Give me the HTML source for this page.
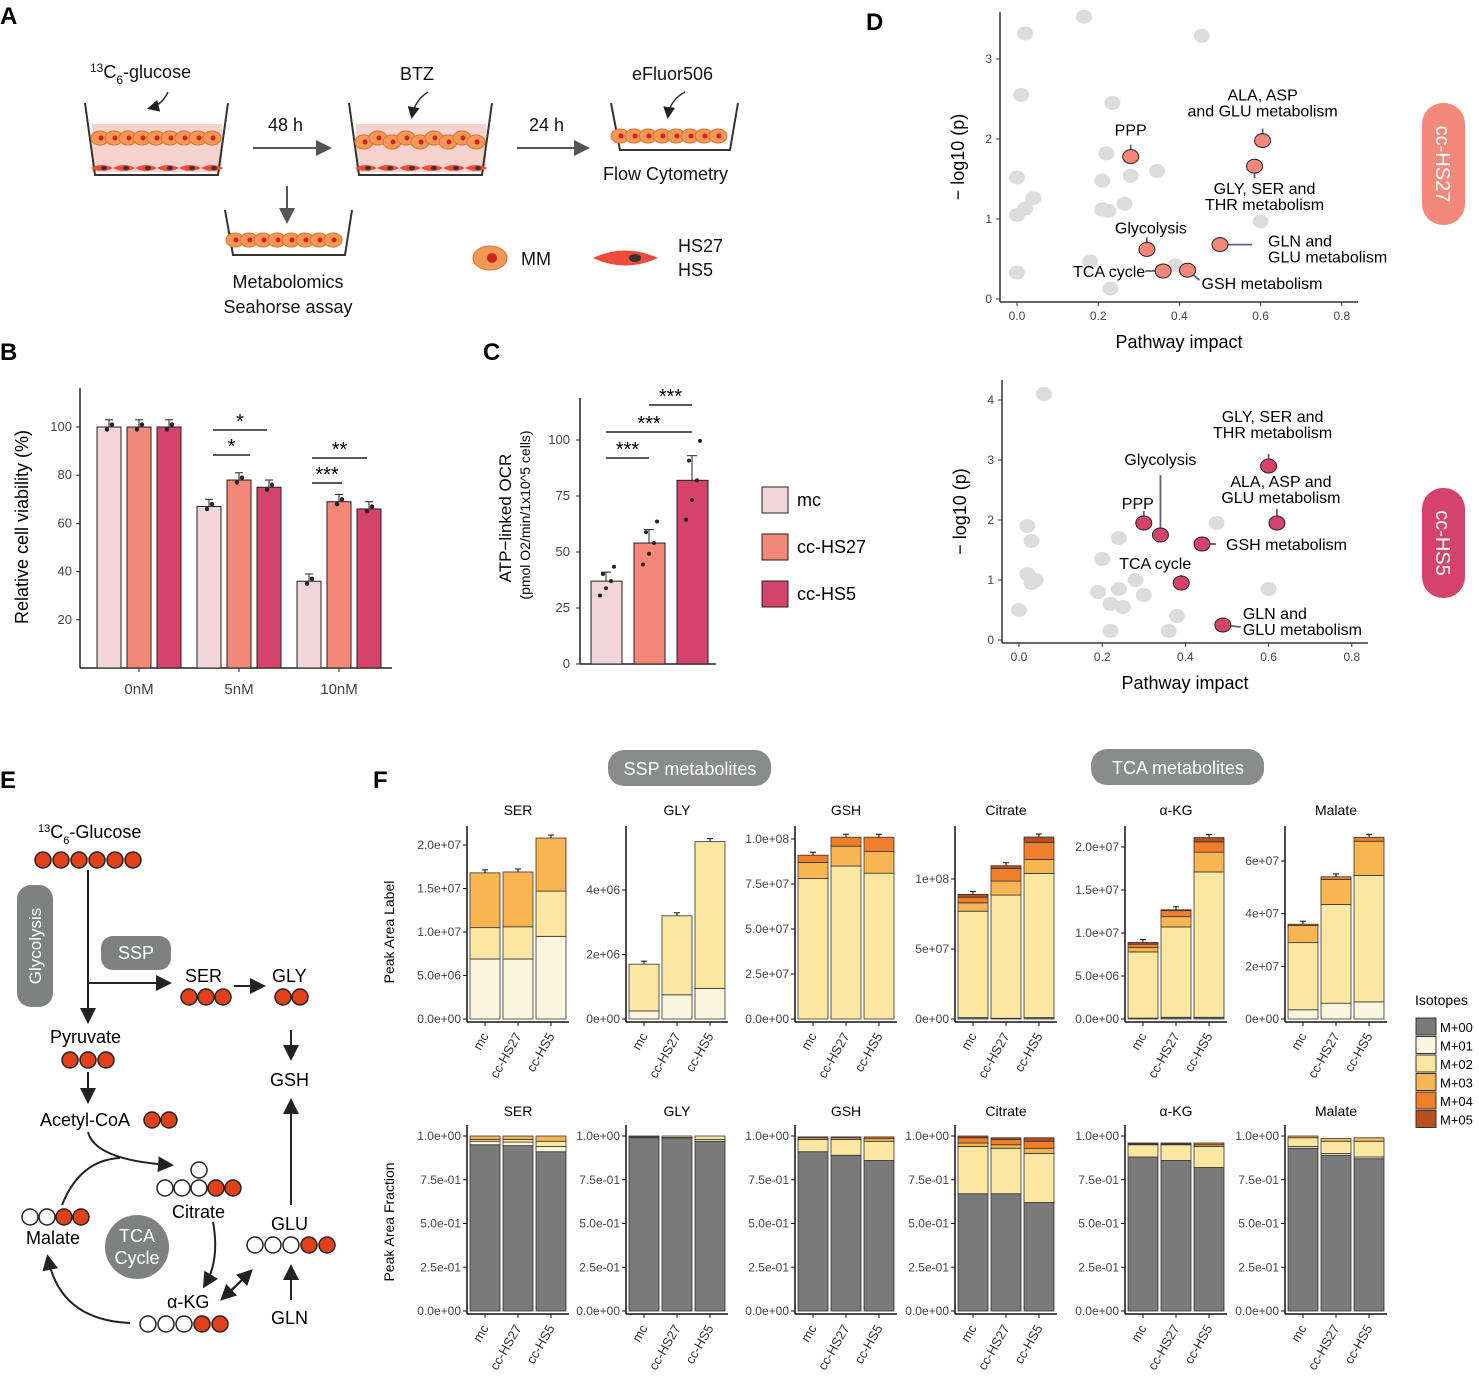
<!DOCTYPE html>
<html><head><meta charset="utf-8"><style>
body{margin:0;background:#fff}
svg{display:block;font-family:"Liberation Sans",sans-serif}
.pl{font-size:24px;font-weight:bold}
.t{font-size:18px;fill:#111}
.tk{font-size:12px;fill:#444;font-family:"Liberation Sans Narrow","Liberation Sans",sans-serif}
</style></head><body>
<svg id="fig" width="1479" height="1381" viewBox="0 0 1479 1381">
<defs><marker id="ar" markerWidth="8" markerHeight="8" refX="6" refY="4" orient="auto"><path d="M0,0 L8,4 L0,8 z" fill="#555"/></marker>
<marker id="ak" markerWidth="8" markerHeight="8" refX="6" refY="4" orient="auto"><path d="M0,0 L8,4 L0,8 z" fill="#222"/></marker></defs>
<g>
<text class="pl" x="0" y="24">A</text><text class="pl" x="0" y="360">B</text><text class="pl" x="483" y="360">C</text>
<text class="pl" x="866" y="30">D</text><text class="pl" x="0" y="788">E</text><text class="pl" x="373" y="788">F</text></g>

<!-- Panel A -->
<g>
<g><rect x="92" y="124" width="130" height="48" fill="#f7d3cf"/><path d="M85,103 L95,175 L218,175 L228,103" fill="none" stroke="#333" stroke-width="2"/></g>
<g><rect x="356" y="124" width="130" height="48" fill="#f7d3cf"/><path d="M349,103 L359,175 L482,175 L492,103" fill="none" stroke="#333" stroke-width="2"/></g>
<path d="M611,103 L620,150 L730,150 L738,103" fill="none" stroke="#333" stroke-width="2"/>
<path d="M225,210 L233,255 L345,255 L352,210" fill="none" stroke="#333" stroke-width="2"/>
<g id="cellsA"></g>
<text class="t" x="90" y="78"><tspan font-size="12" dy="-6">13</tspan><tspan dy="6">C</tspan><tspan font-size="12" dy="6">6</tspan><tspan dy="-6">-glucose</tspan></text>
<path d="M168,92 Q162,105 150,108" fill="none" stroke="#333" stroke-width="1.5" marker-end="url(#ak)"/>
<text class="t" x="400" y="80">BTZ</text><path d="M428,92 Q415,100 412,116" fill="none" stroke="#333" stroke-width="1.5" marker-end="url(#ak)"/>
<text class="t" x="632" y="80">eFluor506</text><path d="M685,92 Q670,100 668,116" fill="none" stroke="#333" stroke-width="1.5" marker-end="url(#ak)"/>
<text class="t" x="268" y="131">48 h</text><line x1="253" y1="148" x2="328" y2="148" stroke="#555" stroke-width="2" marker-end="url(#ar)"/>
<text class="t" x="529" y="131">24 h</text><line x1="517" y1="148" x2="586" y2="148" stroke="#555" stroke-width="2" marker-end="url(#ar)"/>
<text class="t" x="603" y="180">Flow Cytometry</text>
<line x1="287" y1="186" x2="287" y2="220" stroke="#555" stroke-width="2" marker-end="url(#ar)"/>
<text class="t" x="288" y="288" text-anchor="middle">Metabolomics</text><text class="t" x="288" y="313" text-anchor="middle">Seahorse assay</text>
<g><ellipse cx="490" cy="258" rx="17" ry="12" fill="#f29a55" stroke="#e07030"/><circle cx="492" cy="258" r="5" fill="#d62020"/><text class="t" x="521" y="265">MM</text></g>
<g><path d="M593,258 Q625,243 658,258 Q625,273 593,258z" fill="#ef4a3a"/><ellipse cx="635" cy="258" rx="6" ry="4" fill="#333"/><text class="t" x="678" y="252">HS27</text><text class="t" x="678" y="276">HS5</text></g>
</g>

<!-- Panel E -->
<g font-size="18">
<text x="38" y="838"><tspan font-size="11" dy="-6">13</tspan><tspan dy="6">C</tspan><tspan font-size="11" dy="6">6</tspan><tspan dy="-6">-Glucose</tspan></text>
<rect x="17" y="885" width="36" height="122" rx="14" fill="#7f8181"/><text x="41" y="946" fill="#fff" font-size="17" text-anchor="middle" transform="rotate(-90 41 946)">Glycolysis</text>
<rect x="101" y="936" width="70" height="34" rx="12" fill="#7f8181"/><text x="136" y="959" fill="#fff" text-anchor="middle">SSP</text>
<line x1="88" y1="870" x2="88" y2="1020" stroke="#222" stroke-width="2" marker-end="url(#ak)"/>
<line x1="88" y1="983" x2="168" y2="983" stroke="#222" stroke-width="2" marker-end="url(#ak)"/>
<text x="185" y="982">SER</text><line x1="234" y1="986" x2="262" y2="986" stroke="#222" stroke-width="2" marker-end="url(#ak)"/>
<text x="272" y="982">GLY</text>
<line x1="291" y1="1030" x2="291" y2="1057" stroke="#222" stroke-width="2" marker-end="url(#ak)"/>
<text x="270" y="1086">GSH</text>
<line x1="291" y1="1205" x2="291" y2="1102" stroke="#222" stroke-width="2" marker-end="url(#ak)"/>
<text x="271" y="1230">GLU</text>
<line x1="291" y1="1300" x2="291" y2="1268" stroke="#222" stroke-width="2" marker-end="url(#ak)"/>
<text x="271" y="1324">GLN</text>
<text x="50" y="1043">Pyruvate</text>
<line x1="88" y1="1072" x2="88" y2="1100" stroke="#222" stroke-width="2" marker-end="url(#ak)"/>
<text x="40" y="1126">Acetyl-CoA</text>
<path d="M88,1132 Q95,1160 170,1165" fill="none" stroke="#222" stroke-width="2" marker-end="url(#ak)"/>
<text x="172" y="1218">Citrate</text>
<circle cx="137" cy="1247" r="32" fill="#7f8181"/><text x="137" y="1242" fill="#fff" text-anchor="middle">TCA</text><text x="137" y="1264" fill="#fff" text-anchor="middle">Cycle</text>
<path d="M213,1222 Q220,1260 205,1285" fill="none" stroke="#222" stroke-width="2" marker-end="url(#ak)"/>
<text x="167" y="1308">α-KG</text>
<line x1="226" y1="1296" x2="250" y2="1272" stroke="#222" stroke-width="2" marker-end="url(#ak)"/>
<line x1="246" y1="1276" x2="223" y2="1298" stroke="#222" stroke-width="2" marker-end="url(#ak)"/>
<path d="M130,1323 Q60,1320 48,1258" fill="none" stroke="#222" stroke-width="2" marker-end="url(#ak)"/>
<path d="M62,1205 Q80,1160 120,1158" fill="none" stroke="#222" stroke-width="2"/>
<text x="26" y="1244">Malate</text>
<g id="circE"></g>
</g>

<!-- Panel F static -->
<g>
<rect x="608" y="750" width="163" height="36" rx="16" fill="#8a8b8b"/><text x="690" y="775" fill="#fff" font-size="18" text-anchor="middle">SSP metabolites</text>
<rect x="1091" y="749" width="173" height="36" rx="16" fill="#8a8b8b"/><text x="1178" y="774" fill="#fff" font-size="18" text-anchor="middle">TCA metabolites</text>
<text x="394" y="932" font-size="14" text-anchor="middle" transform="rotate(-90 394 932)">Peak Area Label</text>
<text x="394" y="1222" font-size="14" text-anchor="middle" transform="rotate(-90 394 1222)">Peak Area Fraction</text>
<text x="1415" y="1005" font-size="14">Isotopes</text>
</g>
<g id="charts"></g>
</svg>
<script>
// ---------- Panel B data ----------
const bGroups = ["0nM","5nM","10nM"];
const bMc = [100, 67, 36];
const bHS27 = [100, 78, 69];
const bHS5 = [100, 75, 66];
const bTicks = [20,40,60,80,100];
// ---------- Panel C data ----------
const cCats = ["mc","cc-HS27","cc-HS5"];
const cVals = [37, 54, 82];
const cErr = [4, 6, 11];
const cTicks = [0,25,50,75,100];
// ---------- Panel D data ----------
const dTopGrayX = [0.165,0.02,0.455,0.01,0.235,0.22,0.0,0.21,0.28,0.345,0.04,0.02,0.0,0.21,0.225,0.265,0.6,0.18,0.39,0.0,0.23];
const dTopGrayY = [3.53,3.32,3.29,2.55,2.45,1.82,1.52,1.48,1.54,1.6,1.26,1.13,1.05,1.12,1.1,1.19,0.97,0.47,0.42,0.33,0.13];
const dTopRedX = [0.28,0.605,0.585,0.32,0.36,0.42,0.5];
const dTopRedY = [1.78,1.98,1.66,0.62,0.35,0.36,0.68];
const dBotGrayX = [0.06,0.02,0.03,0.02,0.04,0.03,0.0,0.2,0.24,0.19,0.24,0.22,0.28,0.25,0.3,0.22,0.36,0.38,0.475,0.6];
const dBotGrayY = [4.1,1.9,1.65,1.1,1.0,0.95,0.5,1.35,1.7,0.8,0.85,0.6,1.0,0.55,0.75,0.15,0.15,0.4,1.95,0.85];
const dBotRedX = [0.6,0.34,0.3,0.62,0.44,0.39,0.49];
const dBotRedY = [2.9,1.75,1.95,1.95,1.6,0.95,0.25];
const dXTicks = [0,0.2,0.4,0.6,0.8];
// ---------- Panel F data ----------
const fNames = ["SER","GLY","GSH","Citrate","α-KG","Malate"];
const fIsotopes = ["M+00","M+01","M+02","M+03","M+04","M+05"];
const fSER = [[0,6.9e6,3.6e6,6.3e6,0,0],[0,6.9e6,3.7e6,6.3e6,0,0],[0,9.5e6,5.2e6,6.1e6,0,0]];
const fGLY = [[0,0.25e6,1.45e6,0,0,0],[0,0.75e6,2.45e6,0,0,0],[0,0.95e6,4.55e6,0,0,0]];
const fGSH = [[0,0,78e6,9e6,4e6,0],[0,0,85e6,11e6,5e6,0],[0,0,81e6,12e6,8e6,0]];
const fCIT = [[1e6,0,76e6,6e6,4e6,2e6],[0.5e6,0,88e6,10e6,9e6,2e6],[1e6,0,103e6,10e6,12e6,4e6]];
const fAKG = [[0.1e6,0,7.7e6,0.5e6,0.4e6,0.2e6],[0.2e6,0,10.5e6,1.2e6,0.7e6,0.1e6],[0.2e6,0,16.9e6,2.3e6,1.2e6,0.5e6]];
const fMAL = [[0,3.5e6,25.5e6,6.5e6,0.5e6,0],[0,6e6,37.5e6,9.5e6,1e6,0],[0,6.5e6,48e6,13e6,1.5e6,0]];
const fSERf = [[0.95,0.02,0.01,0.02,0,0],[0.945,0.02,0.015,0.02,0,0],[0.91,0.03,0.03,0.03,0,0]];
const fGLYf = [[0.99,0.005,0.005,0,0,0],[0.985,0.007,0.008,0,0,0],[0.97,0.01,0.02,0,0,0]];
const fGSHf = [[0.91,0,0.07,0.01,0.005,0],[0.89,0,0.09,0.01,0.005,0],[0.86,0,0.11,0.015,0.01,0]];
const fCITf = [[0.67,0,0.27,0.02,0.03,0.01],[0.67,0,0.26,0.02,0.03,0.01],[0.62,0,0.28,0.03,0.04,0.02]];
const fAKGf = [[0.88,0,0.07,0.005,0.005,0],[0.86,0,0.09,0.005,0.005,0],[0.82,0,0.12,0.01,0.01,0]];
const fMALf = [[0.93,0.01,0.05,0.01,0,0],[0.89,0.01,0.07,0.015,0,0],[0.87,0.01,0.09,0.02,0,0]];
const fTopTicks = [["0.0e+00","5.0e+06","1.0e+07","1.5e+07","2.0e+07"],["0e+00","2e+06","4e+06"],["0.0e+00","2.5e+07","5.0e+07","7.5e+07","1.0e+08"],["0e+00","5e+07","1e+08"],["0.0e+00","5.0e+06","1.0e+07","1.5e+07","2.0e+07"],["0e+00","2e+07","4e+07","6e+07"]];
const fTopTickVals = [[0,5e6,1e7,1.5e7,2e7],[0,2e6,4e6],[0,2.5e7,5e7,7.5e7,1e8],[0,5e7,1e8],[0,5e6,1e7,1.5e7,2e7],[0,2e7,4e7,6e7]];
const fBotTicks = ["0.0e+00","2.5e-01","5.0e-01","7.5e-01","1.0e+00"];
const fBotTickVals = [0,0.25,0.5,0.75,1];

const NS="http://www.w3.org/2000/svg";
const root=document.getElementById('charts');
function mk(tag,a,p){const e=document.createElementNS(NS,tag);for(const k in a)e.setAttribute(k,a[k]);(p||root).appendChild(e);return e;}
function tx(s,a,p){const e=mk('text',a,p);e.textContent=s;return e;}

// ---------- Panel A cells ----------
const ca=document.getElementById('cellsA');
[[100,214,142],[364,478,142],[620,730,140],[235,342,244]].forEach(w=>{
  for(let x=w[0];x<=w[1];x+=14){const e=mk('ellipse',{cx:x,cy:w[2]-((x/14)%2?4:0),rx:9,ry:7,fill:'#f29a55',stroke:'#e07030'},ca);
  
  
  mk('circle',{cx:x+1,cy:w[2]-((x/14)%2?4:0),r:2.5,fill:'#d62020'},ca);}
});
[[92,222],[356,486]].forEach(w=>{for(let x=w[0]+10;x<w[1];x+=22){mk('path',{d:`M${x-11},168 Q${x},162 ${x+11},168 Q${x},174 ${x-11},168z`,fill:'#ef4a3a'},ca);mk('ellipse',{cx:x+2,cy:168,rx:3,ry:2,fill:'#333'},ca);}});

// ---------- Panel E circles ----------
const ce=document.getElementById('circE');
function circ(x,y,red){const e=mk('circle',{cx:x,cy:y,r:8,fill:red?'#e0401a':'#fff',stroke:'#222','stroke-width':1.5},ce);

}
for(let i=0;i<6;i++)circ(43+i*18,860,1);
for(let i=0;i<3;i++)circ(189+i*17,997,1);
for(let i=0;i<2;i++)circ(283+i*17,997,1);
for(let i=0;i<3;i++)circ(70+i*18,1060,1);
circ(152,1120,1);circ(169,1120,1);
[165,182,199,216,233].forEach((x,i)=>circ(x,1188,i>=3));circ(199,1170,0);
[30,47,64,81].forEach((x,i)=>circ(x,1217,i>=2));
[255,273,291,309,327].forEach((x,i)=>circ(x,1245,i>=3));
[148,166,184,202,220].forEach((x,i)=>circ(x,1324,i>=3));

// ---------- Panel B ----------
const cols=['#f1d6d9','#f2877a','#d6436a'];
(function(){
 const g=mk('g',{});
 const y=v=>668-v*2.41; const gx=i=>97+i*100;
 mk('line',{x1:80,y1:388,x2:80,y2:668,stroke:'#222','stroke-width':1.5},g);
 mk('line',{x1:80,y1:668,x2:392,y2:668,stroke:'#222','stroke-width':1.5},g);
 bTicks.forEach(t=>{mk('line',{x1:76,y1:y(t),x2:80,y2:y(t),stroke:'#222'},g);tx(t,{x:72,y:y(t)+4,'text-anchor':'end',class:'tk',style:'font-size:13px'},g);});
 const series=[bMc,bHS27,bHS5];
 bGroups.forEach((gn,i)=>{
  series.forEach((s,j)=>{const x=gx(i)+j*30;
   const b=mk('rect',{x:x,y:y(s[i]),width:24,height:668-y(s[i]),fill:cols[j],stroke:'#222','stroke-width':1},g);
   
   
   mk('line',{x1:x+12,y1:y(s[i]),x2:x+12,y2:y(s[i]+3),stroke:'#222'},g);mk('line',{x1:x+8,y1:y(s[i]+3),x2:x+16,y2:y(s[i]+3),stroke:'#222'},g);
   mk('circle',{cx:x+10,cy:y(s[i]-1),r:2.2,fill:'#222'},g);mk('circle',{cx:x+15,cy:y(s[i]+1),r:2.2,fill:'#222'},g);
  });
  mk('line',{x1:gx(i)+42,y1:668,x2:gx(i)+42,y2:672,stroke:'#222'},g);
  tx(gn,{x:gx(i)+42,y:694,'text-anchor':'middle',class:'tk',style:'font-size:15px'},g);
 });
 tx('Relative cell viability (%)',{x:28,y:527,'text-anchor':'middle','font-size':18,transform:'rotate(-90 28 527)'},g);
 [[213,250,455,'*'],[213,267,430,'*'],[312,342,483,'***'],[312,367,458,'**']].forEach(b=>{
  mk('line',{x1:b[0],y1:b[2],x2:b[1],y2:b[2],stroke:'#222','stroke-width':1.5},g);tx(b[3],{x:(b[0]+b[1])/2,y:b[2]-2,'text-anchor':'middle','font-size':20},g);});
})();

// ---------- Panel C ----------
(function(){
 const g=mk('g',{});
 const y=v=>664-v*2.24;
 mk('line',{x1:580,y1:398,x2:580,y2:664,stroke:'#222','stroke-width':1.5},g);
 mk('line',{x1:580,y1:664,x2:716,y2:664,stroke:'#222','stroke-width':1.5},g);
 cTicks.forEach(t=>{mk('line',{x1:576,y1:y(t),x2:580,y2:y(t),stroke:'#222'},g);tx(t,{x:570,y:y(t)+4,'text-anchor':'end',class:'tk',style:'font-size:13px'},g);});
 cCats.forEach((c,i)=>{const x=591+i*43;
  const b=mk('rect',{x:x,y:y(cVals[i]),width:31,height:664-y(cVals[i]),fill:cols[i],stroke:'#222'},g);
  
  
  mk('line',{x1:x+15,y1:y(cVals[i]),x2:x+15,y2:y(cVals[i]+cErr[i]),stroke:'#222'},g);
  mk('line',{x1:x+10,y1:y(cVals[i]+cErr[i]),x2:x+20,y2:y(cVals[i]+cErr[i]),stroke:'#222'},g);
  [-6,0,5,-3,8].forEach((o,k)=>mk('circle',{cx:x+15+o,cy:y(cVals[i]+(k-2)*cErr[i]*0.8),r:2,fill:'#222'},g));
 });
 tx('ATP−linked OCR',{x:511,y:518,'text-anchor':'middle','font-size':17,transform:'rotate(-90 511 518)'},g);
 tx('(pmol O2/min/1x10^5 cells)',{x:530,y:515,'text-anchor':'middle','font-size':14,transform:'rotate(-90 530 515)'},g);
 [[606,649,458],[606,692,432],[649,692,405]].forEach(b=>{mk('line',{x1:b[0],y1:b[2],x2:b[1],y2:b[2],stroke:'#222','stroke-width':1.5},g);tx('***',{x:(b[0]+b[1])/2,y:b[2]-2,'text-anchor':'middle','font-size':20},g);});
 cCats.forEach((c,i)=>{const yy=487+i*47;const r=mk('rect',{x:762,y:yy,width:26,height:26,fill:cols[i],stroke:'#222'},g);
  
  
  tx(c,{x:797,y:yy+19,'font-size':18},g);});
})();

// ---------- Panel D ----------
function volcano(o){
 const g=mk('g',{});
 const X=v=>o.x0+v*o.sx, Y=v=>o.y0-v*o.sy;
 mk('line',{x1:o.ax,y1:o.top,x2:o.ax,y2:o.by,stroke:'#333','stroke-width':1.5},g);
 mk('line',{x1:o.ax,y1:o.by,x2:o.right,y2:o.by,stroke:'#333','stroke-width':1.5},g);
 dXTicks.forEach(t=>{mk('line',{x1:X(t),y1:o.by,x2:X(t),y2:o.by+4,stroke:'#333'},g);tx(t.toFixed(1),{x:X(t),y:o.by+18,'text-anchor':'middle',class:'tk'},g);});
 o.yt.forEach(t=>{mk('line',{x1:o.ax-4,y1:Y(t),x2:o.ax,y2:Y(t),stroke:'#333'},g);tx(t,{x:o.ax-8,y:Y(t)+4,'text-anchor':'end',class:'tk'},g);});
 o.gx.forEach((v,i)=>{const c=mk('ellipse',{cx:X(v),cy:Y(o.gy[i]),rx:8,ry:7,fill:'#dcdcdc'},g);
  
  });
 o.rx.forEach((v,i)=>{const px=X(v),py=Y(o.ry[i]);const l=o.labels[i];
  mk('line',{x1:px,y1:py,x2:px+l[0],y2:py+l[1],stroke:'#5b5f8a','stroke-width':1.8},g);
  const c=mk('ellipse',{cx:px,cy:py,rx:8,ry:7,fill:o.col,stroke:'#222'},g);
  
  
  l[2].forEach((s,k)=>tx(s,{x:px+l[3],y:py+l[4]+k*16,'text-anchor':l[5],'font-size':16},g));
 });
 tx('− log10 (p)',{x:o.ax-36,y:(o.top+o.by)/2,'text-anchor':'middle','font-size':18,transform:`rotate(-90 ${o.ax-36} ${(o.top+o.by)/2})`},g);
 tx('Pathway impact',{x:(o.ax+o.right)/2,y:o.by+46,'text-anchor':'middle','font-size':18},g);
}
volcano({name:'panel-d-hs27-chart',x0:1017,sx:406,y0:299,sy:80,ax:1000,top:12,by:302,right:1358,yt:[0,1,2,3],gx:dTopGrayX,gy:dTopGrayY,rx:dTopRedX,ry:dTopRedY,col:'#f2877a',
 labels:[[0,-12,['PPP'],0,-21,'middle'],[0,-12,['ALA, ASP','and GLU metabolism'],0,-40,'middle'],[0,12,['GLY, SER and','THR metabolism'],10,28,'middle'],[0,-12,['Glycolysis'],4,-16,'middle'],[-18,0,['TCA cycle'],-18,6,'end'],[12,10,['GSH metabolism'],14,19,'start'],[32,0,['GLN and','GLU metabolism'],48,2,'start']]});
volcano({name:'panel-d-hs5-chart',x0:1019,sx:416,y0:640,sy:60,ax:1002,top:380,by:643,right:1368,yt:[0,1,2,3,4],gx:dBotGrayX,gy:dBotGrayY,rx:dBotRedX,ry:dBotRedY,col:'#d6436a',
 labels:[[0,-12,['GLY, SER and','THR metabolism'],4,-44,'middle'],[0,-60,['Glycolysis'],0,-70,'middle'],[0,-12,['PPP'],-6,-14,'middle'],[0,-14,['ALA, ASP and','GLU metabolism'],4,-36,'middle'],[14,0,['GSH metabolism'],24,6,'start'],[0,-8,['TCA cycle'],-26,-14,'middle'],[18,2,['GLN and','GLU metabolism'],20,-6,'start']]});
[[1422,103,122,'#f2877a','cc-HS27'],[1422,488,110,'#d6436a','cc-HS5']].forEach(p=>{
 const r=mk('rect',{x:p[0],y:p[1],width:43,height:p[2],rx:21,fill:p[3]});
 
 
 const cy=p[1]+p[2]/2;tx(p[4],{x:1443,y:cy,'text-anchor':'middle','font-size':20,fill:'#fff',transform:`rotate(90 1443 ${cy}) translate(0 7)`});
});

// ---------- Panel F ----------
const isoCols=['#7a7a7a','#fbf7de','#fbe7a2','#f9b552','#ef7f2a','#b84f1f'];
const fAxisX=[467,626,795,955,1125,1285];
const fTopData=[fSER,fGLY,fGSH,fCIT,fAKG,fMAL];
const fBotData=[fSERf,fGLYf,fGSHf,fCITf,fAKGf,fMALf];
const fTopMax=[2e7,4e6,1e8,1e8,2e7,6e7];
const fTopMaxPx=[174,129,180,140,172,158];
function stackPanel(k,data,y0,top,scale,ticks,tickVals,titleY,row){
 const g=mk('g',{});
 const ax=fAxisX[k];const Y=v=>y0-v*scale;
 mk('line',{x1:ax,y1:top,x2:ax,y2:y0+3,stroke:'#111','stroke-width':1.5},g);
 mk('line',{x1:ax,y1:y0+3,x2:ax+102,y2:y0+3,stroke:'#111','stroke-width':1.5},g);
 tickVals.forEach((t,i)=>{mk('line',{x1:ax-4,y1:Y(t),x2:ax,y2:Y(t),stroke:'#111'},g);tx(ticks[i],{x:ax-6,y:Y(t)+4,'text-anchor':'end',class:'tk'},g);});
 tx(fNames[k],{x:ax+51,y:titleY,'text-anchor':'middle','font-size':14},g);
 cCats.forEach((c,b)=>{const x=ax+3+b*33;let acc=0;
  data[b].forEach((v,s)=>{if(v<=0)return;const r=mk('rect',{x:x,y:Y(acc+v),width:30,height:v*scale,fill:isoCols[s],stroke:'#333','stroke-width':0.8},g);
   
   
   acc+=v;});
  if(row==='label'){mk('line',{x1:x+15,y1:Y(acc),x2:x+15,y2:Y(acc)-3,stroke:'#111'},g);mk('line',{x1:x+12,y1:Y(acc)-3,x2:x+18,y2:Y(acc)-3,stroke:'#111'},g);}
  mk('line',{x1:x+15,y1:y0+3,x2:x+15,y2:y0+7,stroke:'#111'},g);
  tx(c,{x:x+19,y:y0+17,'text-anchor':'end','font-size':13,fill:'#333',transform:`rotate(-60 ${x+19} ${y0+17})`},g);
 });
}
fNames.forEach((n,k)=>{
 stackPanel(k,fTopData[k],1019,826,fTopMaxPx[k]/fTopMax[k],fTopTicks[k],fTopTickVals[k],815,'label');
 stackPanel(k,fBotData[k],1311,1125,175,fBotTicks,fBotTickVals,1116,'fraction');
});
fIsotopes.forEach((s,i)=>{const yy=1018+i*18.5;const r=mk('rect',{x:1416,y:yy,width:20,height:17,fill:isoCols[i],stroke:'#333'});
 
 
 tx(s,{x:1440,y:yy+14,'font-size':13});});
</script>
</body></html>
